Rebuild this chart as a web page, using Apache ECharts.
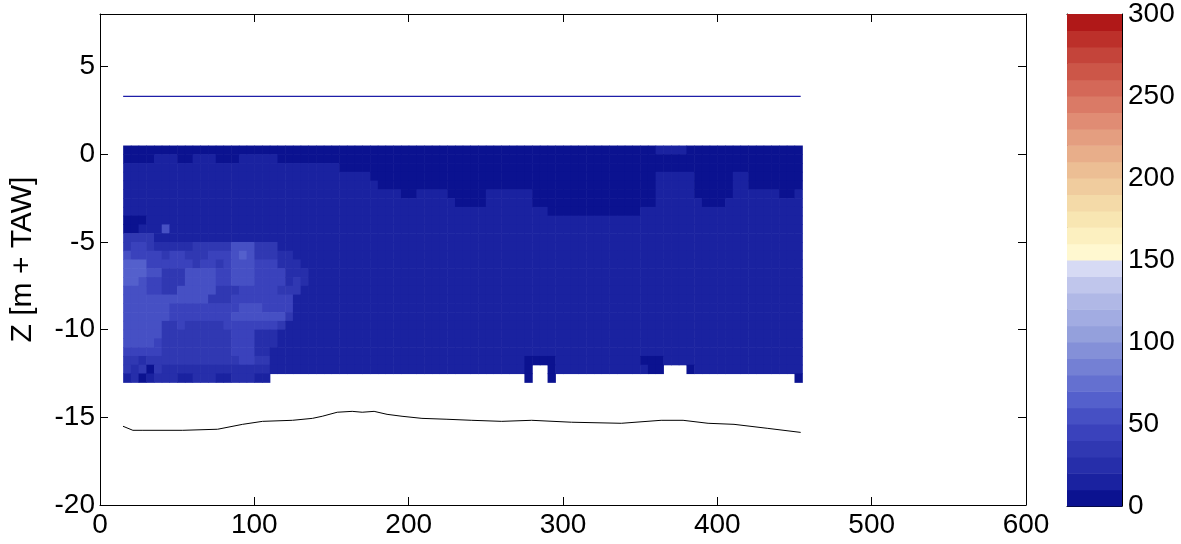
<!DOCTYPE html>
<html><head><meta charset="utf-8">
<script src="https://cdn.jsdelivr.net/npm/echarts@6/dist/echarts.min.js"></script>
<style>html,body{margin:0;padding:0;background:#fff}#c{width:1181px;height:544px}</style>
</head><body><div id="c"></div>
<script>
// ---------------- data ----------------
const xTicks = [0, 100, 200, 300, 400, 500, 600];
const yTicks = [-20, -15, -10, -5, 0, 5];
const cbTicks = [0, 50, 100, 150, 200, 250, 300];
const yMaxValue = 8;

// grid of cells: first column starts at x=15 (5 m wide), first row starts at z=0.5 (0.5 m tall)
const cellX0 = 15, cellDX = 5, cellY0 = 0.5, cellDY = 0.5;
// code -> value (read from the colour of each cell); '.' = no data
const codeValues = {'0': 5, '1': 15, '2': 25, '3': 35, '4': 45, '5': 55, '6': 65};
const gridRows = [
"0000000000 0000000000 0000000000 0000000000 0000000000 0000000000 0000000001 1110000000 00000000",
"0000111001 1100011111 0000000000 0000000000 0000000000 0000000000 0000000000 0000000000 00000000",
"1111111111 1111111111 1111111100 0000000000 0000000000 0000000000 0000000000 0000000000 00000000",
"1111111111 1111111111 1111111111 1100000000 0000000000 0000000000 0000000001 1111000001 10000000",
"1111111111 1111111111 1111111111 1110000000 0000000000 0000000000 0000000001 1111000001 10000000",
"1111111111 1111111111 1111111111 1111110011 1100000111 1110000000 0000000001 1111000001 11111001",
"1111111111 1111111111 1111111111 1111111111 1110000111 1110000000 0000000001 1111100011 11111111",
"1111111111 1111111111 1111111111 1111111111 1111111111 1111100000 0000000111 1111111111 11111111",
"0001111111 1111111111 1111111111 1111111111 1111111111 1111111111 1111111111 1111111111 11111111",
"0011151111 1111111111 1111111111 1111111111 1111111111 1111111111 1111111111 1111111111 11111111",
"3333111111 1111111111 1111111111 1111111111 1111111111 1111111111 1111111111 1111111111 11111111",
"3443222223 3333555333 1111111111 1111111111 1111111111 1111111111 1111111111 1111111111 11111111",
"5444434433 3444565333 2211111111 1111111111 1111111111 1111111111 1111111111 1111111111 11111111",
"6664444443 4434555444 2221111111 1111111111 1111111111 1111111111 1111111111 1111111111 11111111",
"6665533355 5544555444 4222111111 1111111111 1111111111 1111111111 1111111111 1111111111 11111111",
"6654433355 5544555444 4232111111 1111111111 1111111111 1111111111 1111111111 1111111111 11111111",
"5554433555 5533344444 3331111111 1111111111 1111111111 1111111111 1111111111 1111111111 11111111",
"5555555555 5333444444 4411111111 1111111111 1111111111 1111111111 1111111111 1111111111 11111111",
"5555554444 4444455544 4411111111 1111111111 1111111111 1111111111 1111111111 1111111111 11111111",
"5555554444 4444555555 5311111111 1111111111 1111111111 1111111111 1111111111 1111111111 11111111",
"5555533433 3334444444 3111111111 1111111111 1111111111 1111111111 1111111111 1111111111 11111111",
"5555533333 3333444222 1111111111 1111111111 1111111111 1111111111 1111111111 1111111111 11111111",
"5555433333 3333444222 1111111111 1111111111 1111111111 1111111111 1111111111 1111111111 11111111",
"4444433333 3333444221 1111111111 1111111111 1111111111 1111111111 1111111111 1111111111 11111111",
"3323333333 3333344331 1111111111 1111111111 1111111111 1100001111 1111111000 1111111111 11111111",
"3230322222 2222222221 1111111111 1111111111 1111111111 110..01111 1111111100 ...0111111 11111111",
"1201222112 221122211. .......... .......... .......... ..0..0.... .......... .......... .......0"
];

// water surface line
const surfaceX = [15, 454];
const surfaceY = [3.3, 3.3];
// bed level line
const bedX = [14.9, 21.3, 27.8, 53.6, 76.2, 92.4, 105.3, 124.7, 137.6, 144.0, 153.7, 163.4, 169.9, 177.6, 186.0, 195.7, 208.6, 224.8, 240.9, 260.3, 279.7, 305.5, 337.8, 363.6, 377.8, 394.0, 410.8, 432.7, 454.0];
const bedY = [-15.51, -15.74, -15.74, -15.74, -15.68, -15.40, -15.23, -15.17, -15.06, -14.94, -14.71, -14.66, -14.71, -14.66, -14.83, -14.94, -15.06, -15.11, -15.17, -15.23, -15.17, -15.28, -15.34, -15.17, -15.17, -15.34, -15.40, -15.63, -15.86];

// colour map: 30 levels of 10 units (0..300)
const colormap = [
 '#0b1290','#1a22a0','#262eaa','#3038b2','#3a42bc','#4650c4','#5460cc','#6470d0','#7480d4','#8490d8',
 '#94a0dc','#a2ace2','#b0b8e6','#c0c6ec','#d6daf4','#fff8d0','#fcf0c0','#f8e6b2','#f4daa8','#f0cc9e',
 '#ecbe94','#e8ae8a','#e49e80','#e08c74','#da7a66','#d46858','#cc5648','#c4443a','#bc302a','#b01818'
];

// ---------------- build ----------------
function colorFor(v) { return colormap[Math.max(0, Math.min(colormap.length - 1, Math.floor(v / 10)))]; }
const cells = [];
gridRows.forEach((rowStr, r) => {
  const row = rowStr.replace(/\s+/g, '');
  for (let c = 0; c < row.length; c++) {
    const ch = row[c];
    if (ch === '.') continue;
    cells.push([cellX0 + cellDX * (c + 0.5), cellY0 - cellDY * (r + 0.5), codeValues[ch]]);
  }
});
const cbMax = cbTicks[cbTicks.length - 1];
const cbData = colormap.map((col, i) => [0, cbMax * i / colormap.length, cbMax * (i + 1) / colormap.length, i]);

const AX = '#000';
const FONT = 'Liberation Sans';
const TICKFS = 28;
const axisCommon = {
  axisLine: {show: true, onZero: false, lineStyle: {color: AX, width: 1}},
  splitLine: {show: false}
};

const chart = echarts.init(document.getElementById('c'), null, {renderer: 'canvas'});
chart.setOption({
  animation: false,
  backgroundColor: '#fff',
  textStyle: {fontFamily: FONT},
  grid: [
    {left: 97, top: 14, width: 929, height: 491},
    {left: 1067, top: 9, width: 55, height: 497}
  ],
  xAxis: [
    Object.assign({gridIndex: 0, type: 'value', position: 'bottom', min: xTicks[0], max: xTicks[xTicks.length - 1], interval: xTicks[1] - xTicks[0],
      axisTick: {inside: true, length: 8, lineStyle: {color: AX}},
      axisLabel: {fontSize: TICKFS, color: '#000', margin: 6, fontFamily: FONT}}, axisCommon),
    Object.assign({gridIndex: 0, type: 'value', position: 'top', min: xTicks[0], max: xTicks[xTicks.length - 1], interval: xTicks[1] - xTicks[0],
      axisTick: {inside: true, length: 8, lineStyle: {color: AX}}, axisLabel: {show: false}}, axisCommon),
    Object.assign({gridIndex: 1, type: 'value', position: 'bottom', min: 0, max: 1, axisTick: {show: false}, axisLabel: {show: false}}, axisCommon),
    Object.assign({gridIndex: 1, type: 'value', position: 'top', min: 0, max: 1, axisTick: {show: false}, axisLabel: {show: false}}, axisCommon)
  ],
  yAxis: [
    Object.assign({gridIndex: 0, type: 'value', position: 'left', min: yTicks[0], max: yMaxValue, interval: yTicks[1] - yTicks[0],
      name: 'Z [m + TAW]', nameLocation: 'middle', nameGap: 62, nameRotate: 90,
      nameTextStyle: {fontSize: 30, color: '#000', fontFamily: FONT},
      axisTick: {inside: true, length: 8, lineStyle: {color: AX}},
      axisLabel: {fontSize: TICKFS, color: '#000', margin: 5, showMaxLabel: false, fontFamily: FONT}}, axisCommon),
    Object.assign({gridIndex: 0, type: 'value', position: 'right', min: yTicks[0], max: yMaxValue, interval: yTicks[1] - yTicks[0],
      axisTick: {inside: true, length: 8, lineStyle: {color: AX}}, axisLabel: {show: false}}, axisCommon),
    Object.assign({gridIndex: 1, type: 'value', position: 'right', min: cbTicks[0], max: cbMax, interval: cbTicks[1] - cbTicks[0],
      axisTick: {inside: true, length: 5, lineStyle: {color: AX}},
      axisLabel: {fontSize: TICKFS, color: '#000', margin: 6, fontFamily: FONT}}, axisCommon),
    Object.assign({gridIndex: 1, type: 'value', position: 'left', min: cbTicks[0], max: cbMax, interval: cbTicks[1] - cbTicks[0],
      axisTick: {inside: true, length: 5, lineStyle: {color: AX}}, axisLabel: {show: false}}, axisCommon)
  ],
  series: [
    {
      type: 'custom', xAxisIndex: 0, yAxisIndex: 0, silent: true, z: 2,
      data: cells,
      renderItem: function (params, api) {
        const x = api.value(0), y = api.value(1), v = api.value(2);
        const p0 = api.coord([x - cellDX / 2, y + cellDY / 2]);
        const p1 = api.coord([x + cellDX / 2, y - cellDY / 2]);
        return {type: 'rect', shape: {x: p0[0], y: p0[1], width: p1[0] - p0[0] + 0.6, height: p1[1] - p0[1] + 0.6},
          style: {fill: colorFor(v)}};
      }
    },
    {
      type: 'line', xAxisIndex: 0, yAxisIndex: 0, silent: true, z: 5,
      data: surfaceX.map((x, i) => [x, surfaceY[i]]),
      showSymbol: false, lineStyle: {color: '#1e1ea8', width: 1.2}
    },
    {
      type: 'line', xAxisIndex: 0, yAxisIndex: 0, silent: true, z: 5,
      data: bedX.map((x, i) => [x, bedY[i]]),
      showSymbol: false, lineStyle: {color: '#000', width: 1}
    },
    {
      type: 'custom', xAxisIndex: 2, yAxisIndex: 2, silent: true, z: 2,
      data: cbData,
      renderItem: function (params, api) {
        const p0 = api.coord([0, api.value(2)]);
        const p1 = api.coord([1, api.value(1)]);
        return {type: 'rect', shape: {x: p0[0], y: p0[1], width: p1[0] - p0[0], height: p1[1] - p0[1] + 0.6},
          style: {fill: colormap[api.value(3)]}};
      }
    }
  ]
});
</script>
</body></html>
